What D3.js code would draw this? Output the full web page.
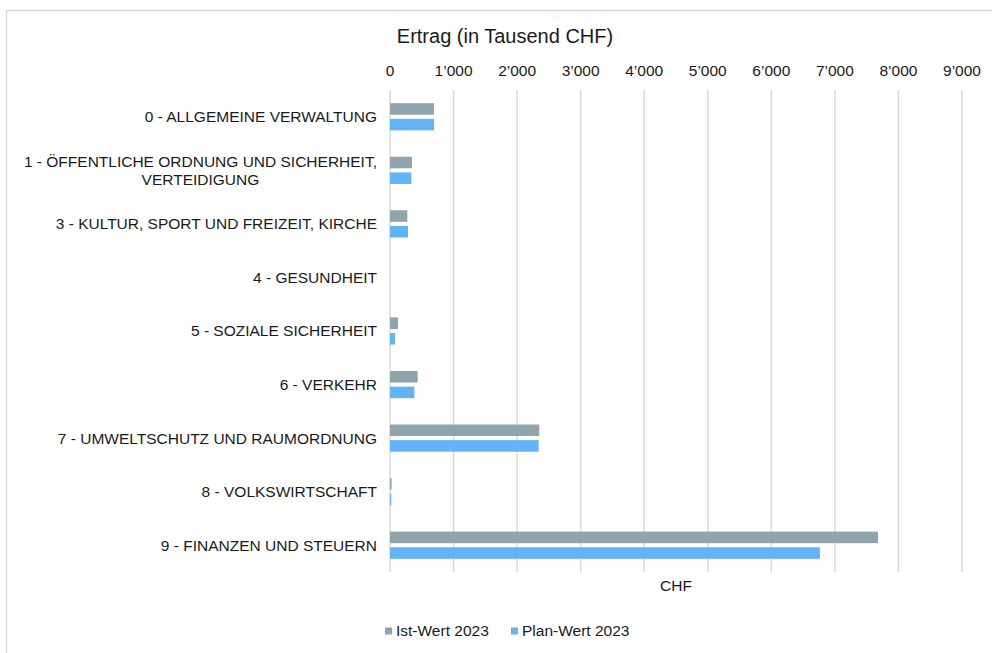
<!DOCTYPE html>
<html>
<head>
<meta charset="utf-8">
<script src="https://cdn.jsdelivr.net/npm/d3@7"></script>
<style>
  html, body { margin: 0; padding: 0; background: #fff; }
  svg { display: block; font-family: "Liberation Sans", Arial, sans-serif; }
  .grid line { stroke: #d9d9d9; stroke-width: 1.5; }
  .tick-label, .cat-label, .legend text, .axis-title { fill: #1a1a1a; font-size: 15.5px; }
</style>
</head>
<body>
<div id="chart"></div>
<script>
// categories (label lines), values in Tausend CHF
const categories = [
  ['0 - ALLGEMEINE VERWALTUNG'],
  ['1 - ÖFFENTLICHE ORDNUNG UND SICHERHEIT,', 'VERTEIDIGUNG'],
  ['3 - KULTUR, SPORT UND FREIZEIT, KIRCHE'],
  ['4 - GESUNDHEIT'],
  ['5 - SOZIALE SICHERHEIT'],
  ['6 - VERKEHR'],
  ['7 - UMWELTSCHUTZ UND RAUMORDNUNG'],
  ['8 - VOLKSWIRTSCHAFT'],
  ['9 - FINANZEN UND STEUERN']
];
const seriesNames = ['Ist-Wert 2023', 'Plan-Wert 2023'];
const istValues = [692, 346, 272, 0, 126, 435, 2348, 25, 7677];
const planValues = [692, 336, 283, 0, 79, 383, 2338, 20, 6764];
const xTicks = [0, 1000, 2000, 3000, 4000, 5000, 6000, 7000, 8000, 9000];
const colors = ['#8fa4ad', '#63b4f5'];

const width = 992, height = 653;
const plot = { left: 390, right: 962, top: 90, bottom: 572 };

const svg = d3.select('#chart')
  .append('svg')
  .attr('width', width)
  .attr('height', height);

// outer frame (only top and left visible in the picture)
svg.append('rect')
  .attr('x', 6.5)
  .attr('y', 10.5)
  .attr('width', width + 20)
  .attr('height', height + 20)
  .attr('fill', 'none')
  .attr('stroke', '#d9d9d9')
  .attr('stroke-width', 1.5);

const x = d3.scaleLinear().domain([0, 9000]).range([plot.left, plot.right]);
const y = d3.scaleBand()
  .domain(d3.range(categories.length))
  .range([plot.top, plot.bottom]);
const yInner = d3.scaleBand()
  .domain(d3.range(seriesNames.length))
  .range([-13.6, 13.6])
  .paddingInner(0.26);

const fmt = v => d3.format(',')(v).replace(/,/g, '\u2019');

// gridlines
svg.append('g')
  .attr('class', 'grid')
  .selectAll('line')
  .data(xTicks)
  .join('line')
  .attr('x1', d => x(d))
  .attr('x2', d => x(d))
  .attr('y1', plot.top)
  .attr('y2', plot.bottom);

// top tick labels
svg.append('g')
  .selectAll('text')
  .data(xTicks)
  .join('text')
  .attr('class', 'tick-label')
  .attr('x', d => x(d))
  .attr('y', 76)
  .attr('text-anchor', 'middle')
  .text(d => fmt(d));

// title
svg.append('text')
  .attr('x', 505)
  .attr('y', 43)
  .attr('text-anchor', 'middle')
  .style('font-size', '20px')
  .style('fill', '#1a1a1a')
  .text('Ertrag (in Tausend CHF)');

// category labels
const catG = svg.append('g')
  .selectAll('g')
  .data(categories)
  .join('g')
  .attr('transform', (d, i) => `translate(377, ${y(i) + y.bandwidth() / 2})`);

catG.each(function(lines) {
  const g = d3.select(this);
  if (lines.length === 1) {
    g.append('text')
      .attr('class', 'cat-label')
      .attr('text-anchor', 'end')
      .attr('dy', '0.35em')
      .text(lines[0]);
  } else {
    const first = g.append('text')
      .attr('class', 'cat-label')
      .attr('text-anchor', 'end')
      .attr('y', -9)
      .attr('dy', '0.35em')
      .text(lines[0]);
    const w = first.node().getComputedTextLength();
    g.append('text')
      .attr('class', 'cat-label')
      .attr('text-anchor', 'middle')
      .attr('x', -w / 2)
      .attr('y', 9)
      .attr('dy', '0.35em')
      .text(lines[1]);
  }
});

// bars
const rows = categories.map((c, i) => [istValues[i], planValues[i]]);
svg.append('g')
  .selectAll('g')
  .data(rows)
  .join('g')
  .attr('transform', (d, i) => `translate(0, ${y(i) + y.bandwidth() / 2})`)
  .selectAll('rect')
  .data(d => d)
  .join('rect')
  .attr('x', x(0))
  .attr('y', (d, j) => yInner(j))
  .attr('width', d => x(d) - x(0))
  .attr('height', yInner.bandwidth())
  .attr('fill', (d, j) => colors[j]);

// axis title
svg.append('text')
  .attr('class', 'axis-title')
  .attr('x', 676)
  .attr('y', 586)
  .attr('dy', '0.35em')
  .attr('text-anchor', 'middle')
  .text('CHF');

// legend
const legendX = [385, 511];
const legend = svg.append('g')
  .attr('class', 'legend')
  .selectAll('g')
  .data(seriesNames)
  .join('g')
  .attr('transform', (d, i) => `translate(${legendX[i]}, 631)`);

legend.append('rect')
  .attr('x', 0)
  .attr('y', -3.5)
  .attr('width', 7)
  .attr('height', 7)
  .attr('fill', (d, i) => colors[i]);

legend.append('text')
  .attr('x', 11)
  .attr('dy', '0.35em')
  .text(d => d);
</script>
</body>
</html>
